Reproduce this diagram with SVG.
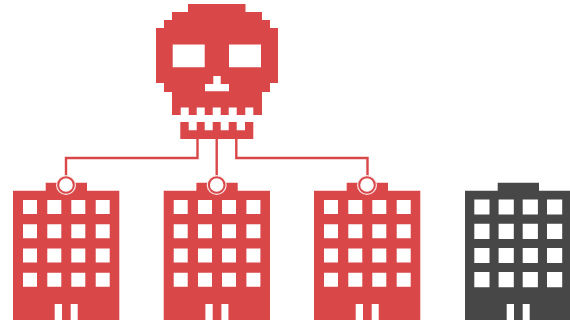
<svg xmlns="http://www.w3.org/2000/svg" width="570" height="327" viewBox="0 0 570 327">
<style>
.r{fill:#d94749}
.g{fill:#474747}
.line{fill:none;stroke:#d94749;stroke-width:2.4}
.ring{fill:#fff;stroke:#d94749;stroke-width:2}
.halo{fill:#fbe9e9}
</style>
<defs>
<path id="b" fill-rule="evenodd" d="M13 190.7H45.7V182.7H87V190.7H119.3V320H77.7V304H70.7V320H62V304H54.7V320H13Z
M23 200v14h14v-14Z M47.3 200v14h14v-14Z M71.3 200v14h14v-14Z M95.7 200v14h14v-14Z
M23 224.3v14h14v-14Z M47.3 224.3v14h14v-14Z M71.3 224.3v14h14v-14Z M95.7 224.3v14h14v-14Z
M23 248.5v14h14v-14Z M47.3 248.5v14h14v-14Z M71.3 248.5v14h14v-14Z M95.7 248.5v14h14v-14Z
M23 272.7v14h14v-14Z M47.3 272.7v14h14v-14Z M71.3 272.7v14h14v-14Z M95.7 272.7v14h14v-14Z"/>
<path id="bg" fill-rule="evenodd" d="M13 190.7H45.7V182.7H87V190.7H119.3V320H77.7V304H70.7V320H62V304H54.7V320H13Z
M22.3 199.4v15.2h15.2v-15.2Z M46.6 199.4v15.2h15.2v-15.2Z M70.7 199.4v15.2h15.2v-15.2Z M95 199.4v15.2h15.2v-15.2Z
M22.3 223.7v15.2h15.2v-15.2Z M46.6 223.7v15.2h15.2v-15.2Z M70.7 223.7v15.2h15.2v-15.2Z M95 223.7v15.2h15.2v-15.2Z
M22.3 247.9v15.2h15.2v-15.2Z M46.6 247.9v15.2h15.2v-15.2Z M70.7 247.9v15.2h15.2v-15.2Z M95 247.9v15.2h15.2v-15.2Z
M22.3 272.1v15.2h15.2v-15.2Z M46.6 272.1v15.2h15.2v-15.2Z M70.7 272.1v15.2h15.2v-15.2Z M95 272.1v15.2h15.2v-15.2Z"/>
</defs>
<g id="skull">
<path class="r" fill-rule="evenodd" d="M188 4H245.5V12H262V20H270V28H278V83H270V92H262V115H253.3V107.5H245.3V115H236.7V107.5H228.7V115H220.7V107.5H212.7V115H204.7V107.5H196.7V115H188.7V107.5H180.7V115H172V92H164V83H156V28H164V20H172V12H188Z
M172.7 44.5V67.3H204.7V44.5Z M229 44.5V67.3H261V44.5Z
M213.3 76V84H205V91.3H229V84H220.7V76Z"/>
<path class="r" d="M180.3 122H188.7V130.3H196.7V122H204.7V130.3H212.7V122H220.7V130.3H228.7V122H236.7V130.3H245V122H253.3V139H180.3Z"/>
</g>
<g id="building-1"><use href="#b" class="r"/></g>
<g id="building-2"><use href="#b" class="r" x="150.7"/></g>
<g id="building-3"><use href="#b" class="r" x="301"/></g>
<g id="building-4"><use href="#bg" class="g" x="452"/></g>
<g id="connectors">
<path class="line" d="M197.5 139V158H66V178"/>
<path class="line" d="M216.7 139V178"/>
<path class="line" d="M236.3 139V158H367.5V178"/>
</g>
<g id="port-1"><circle class="halo" cx="66" cy="185" r="10"/><circle class="ring" cx="66" cy="185" r="7.8"/></g>
<g id="port-2"><circle class="halo" cx="216.7" cy="185" r="10"/><circle class="ring" cx="216.7" cy="185" r="7.8"/></g>
<g id="port-3"><circle class="halo" cx="367" cy="185" r="10"/><circle class="ring" cx="367" cy="185" r="7.8"/></g>
</svg>
